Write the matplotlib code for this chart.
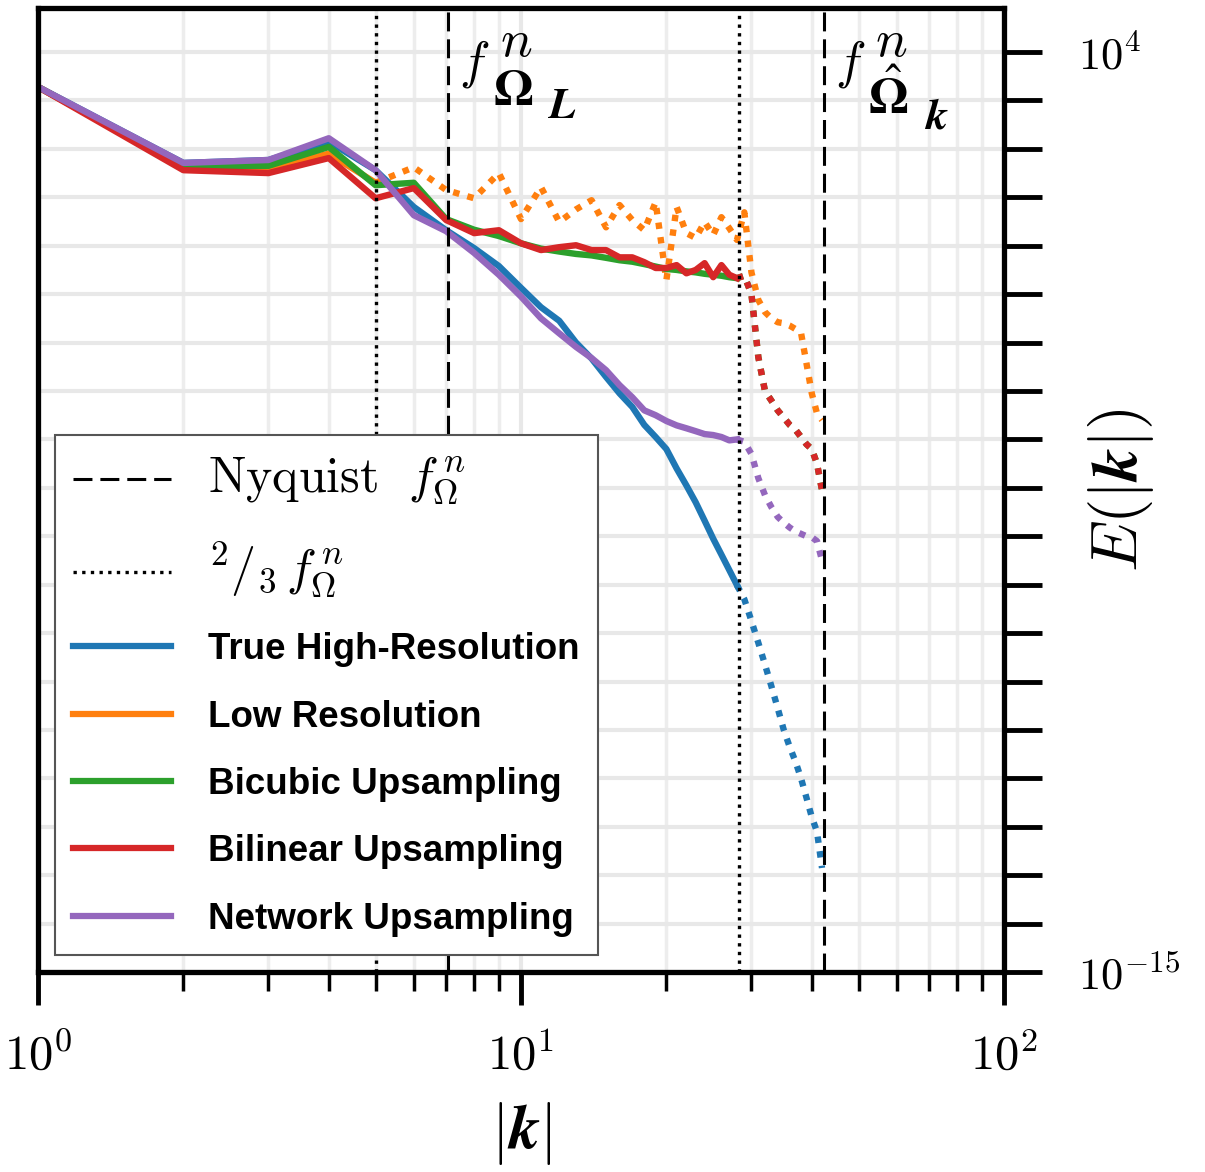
import numpy as np
import matplotlib
matplotlib.use("Agg")
import matplotlib.pyplot as plt
from matplotlib.ticker import FixedLocator, FixedFormatter, LogLocator, NullFormatter

plt.rcParams['mathtext.fontset'] = 'cm'
plt.rcParams['font.family'] = ['DejaVu Serif']

# wavenumbers (integer shells)
k = np.arange(1, 43)
k_cut = 28          # 2/3 of high-res Nyquist, end of the solid part
k_cut_lr = 5        # 2/3 of low-res Nyquist

# log10 E(|k|)
true_hr = [3.28, 1.71, 1.77, 2.15, 1.56, 0.80, 0.32, -0.05, -0.42, -0.87,
           -1.27, -1.55, -2.00, -2.33, -2.71, -3.05, -3.33, -3.70, -3.95, -4.20,
           -4.60, -4.95, -5.30, -5.68, -6.05, -6.38, -6.70, -7.01, -7.30, -7.75,
           -8.20, -8.65, -9.10, -9.55, -10.00, -10.35, -10.65, -11.00, -11.40, -11.80,
           -12.10, -12.85]
low_res = [3.28, 1.62, 1.60, 1.90, 1.30, 1.62, 1.15, 0.98, 1.50, 0.55,
           1.21, 0.49, 0.75, 0.94, 0.38, 0.84, 0.53, 0.32, 0.90, -0.71,
           0.80, 0.26, 0.16, 0.49, 0.22, 0.59, 0.36, 0.12, 0.69, -0.55,
           -1.12, -1.37, -1.50, -1.58, -1.60, -1.65, -1.72, -1.80, -2.43, -3.05,
           -3.46, -3.60]
bicubic = [3.28, 1.65, 1.65, 2.04, 1.25, 1.30, 0.55, 0.33, 0.20, 0.05,
           -0.06, -0.12, -0.17, -0.20, -0.25, -0.30, -0.33, -0.38, -0.43, -0.48,
           -0.50, -0.53, -0.55, -0.58, -0.60, -0.62, -0.65, -0.67, -0.62, -1.00,
           -2.30, -3.00, -3.20, -3.40, -3.55, -3.70, -3.80, -3.95, -4.10, -4.20,
           -4.50, -5.05]
bilinear = [3.28, 1.56, 1.50, 1.81, 0.98, 1.19, 0.53, 0.26, 0.32, 0.05,
            -0.09, -0.03, 0.01, -0.09, -0.09, -0.24, -0.24, -0.34, -0.46, -0.46,
            -0.40, -0.57, -0.50, -0.36, -0.65, -0.40, -0.60, -0.67, -0.62, -1.00,
            -2.30, -3.00, -3.20, -3.40, -3.55, -3.70, -3.80, -3.95, -4.10, -4.20,
            -4.50, -5.05]
network = [3.28, 1.71, 1.77, 2.22, 1.56, 0.63, 0.30, -0.15, -0.60, -1.05,
           -1.50, -1.81, -2.09, -2.32, -2.57, -2.88, -3.13, -3.40, -3.50, -3.62,
           -3.71, -3.77, -3.83, -3.89, -3.91, -3.95, -4.02, -4.00, -4.05, -4.30,
           -4.80, -5.15, -5.40, -5.60, -5.72, -5.82, -5.90, -5.95, -6.00, -6.02,
           -6.10, -6.50]

series = [
    ("True High-Resolution", true_hr, '#1f77b4', k_cut),
    ("Low Resolution", low_res, '#ff7f0e', k_cut_lr),
    ("Bicubic Upsampling", bicubic, '#2ca02c', k_cut),
    ("Bilinear Upsampling", bilinear, '#d62728', k_cut),
    ("Network Upsampling", network, '#9467bd', k_cut),
]

nyq_lr, two3_lr = 7.07, 5.0
nyq_hr, two3_hr = 42.4, 28.3

fig = plt.figure(figsize=(12.05, 11.72), dpi=100)
ax = fig.add_axes([0.0315, 0.1706, 0.8017, 0.8226])

handles = []
for name, vals, col, kc in series:
    e = 10.0 ** np.array(vals)
    solid = k <= kc
    dotted = k >= kc
    h, = ax.plot(k[solid], e[solid], color=col, lw=4.6, label=name)
    ax.plot(k[dotted], e[dotted], color=col, lw=4.6, ls=(0, (1, 1.3)))
    handles.append(h)

dash = (0, (6.2, 2.6))
h_nyq = ax.axvline(nyq_lr, color='k', lw=2.2, ls=dash)
ax.axvline(nyq_hr, color='k', lw=2.2, ls=dash)
h_two3 = ax.axvline(two3_lr, color='k', lw=2.4, ls=(0, (1, 1.6)))
ax.axvline(two3_hr, color='k', lw=2.4, ls=(0, (1, 1.6)))


def cutoff_label(xk, sub_top, sub_bot, hat_dy=0):
    # f^n with a big bold Omega and its own subscript, pieces placed by hand
    kw = dict(xy=(xk, 1.0), xycoords=ax.get_xaxis_transform(), textcoords='offset points',
              ha='left', va='baseline')
    ax.annotate(r'$f$', xytext=(8, -50), fontsize=37, **kw)
    ax.annotate(r'$n$', xytext=(37, -34.6), fontsize=38, **kw)
    ax.annotate(sub_top, xytext=(32, -70 - hat_dy), fontsize=37, math_fontfamily='stix', **kw)
    ax.annotate(sub_bot, xytext=(72, -79 - 1.3 * hat_dy), fontsize=32, **kw)


cutoff_label(nyq_lr, r'$\mathbf{\Omega}$', r'$\boldsymbol{L}$')
cutoff_label(nyq_hr, r'$\hat{\mathbf{\Omega}}$', r'$\boldsymbol{k}$', hat_dy=6)

ax.set_xscale('log')
ax.set_yscale('log')
ax.set_xlim(1, 100)
ax.set_ylim(1e-15, 10 ** 4.91)

# y ticks on the right, every decade, only the ends labelled
yt = [10.0 ** p for p in range(-15, 5)]
ylab = [''] * len(yt)
ylab[0] = r'$10^{-15}$'
ylab[-1] = r'$10^{4}$'
ax.yaxis.set_major_locator(FixedLocator(yt))
ax.yaxis.set_major_formatter(FixedFormatter(ylab))
ax.yaxis.set_minor_locator(FixedLocator([]))
ax.yaxis.tick_right()
ax.tick_params(axis='y', which='major', direction='out', length=27, width=3.5, pad=26, labelsize=32,
               left=False, right=True)

ax.xaxis.set_major_locator(FixedLocator([1, 10, 100]))
ax.xaxis.set_major_formatter(FixedFormatter([r'$10^{0}$', r'$10^{1}$', r'$10^{2}$']))
ax.xaxis.set_minor_locator(LogLocator(base=10, subs=np.arange(2, 10)))
ax.xaxis.set_minor_formatter(NullFormatter())
ax.tick_params(axis='x', which='major', direction='out', length=24, width=3.5, pad=20, labelsize=35)
ax.tick_params(axis='x', which='minor', direction='out', length=14, width=2.5)

ax.grid(True, which='major', color='#e8e8e8', lw=3)
ax.grid(True, which='minor', axis='x', color='#ededed', lw=2.5)
ax.set_axisbelow(True)

for sp in ax.spines.values():
    sp.set_linewidth(3.8)

ax.set_xlabel(r'$|\boldsymbol{k}|$', fontsize=45, labelpad=14)
ax.set_ylabel(r'$E(|\boldsymbol{k}|)$', fontsize=47)
ax.yaxis.set_label_position('right')
ax.yaxis.set_label_coords(1.085, 0.5)

leg_handles = [h_nyq, h_two3] + handles
leg_labels = [r'$\mathrm{Nyquist}\ \ f^{\,n}_{\mathbf{\Omega}}$', r'${}^{2}/{}_{3}\,f^{\,n}_{\mathbf{\Omega}}$'] + \
             [s[0] for s in series]
leg = ax.legend(leg_handles, leg_labels, loc='lower left', bbox_to_anchor=(0.0176, 0.0176), borderaxespad=0,
                fontsize=26.5, fancybox=False, framealpha=1, edgecolor='#555555', handlelength=2.65,
                handletextpad=1.0, labelspacing=0.88, borderpad=0.5)
leg.get_frame().set_linewidth(1.5)
for t in leg.get_texts()[:2]:
    t.set_fontsize(36)
for t in leg.get_texts()[2:]:
    t.set_fontfamily('Liberation Sans')
    t.set_fontweight('bold')
for lh in leg.get_lines()[2:]:
    lh.set_linewidth(4.5)

fig.savefig('out.png', dpi=100)
